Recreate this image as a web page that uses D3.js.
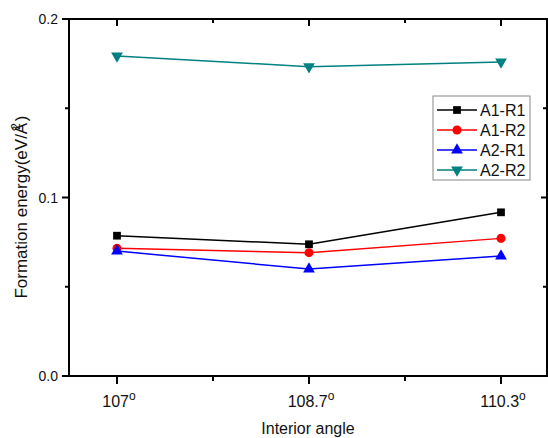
<!DOCTYPE html>
<meta charset="utf-8">
<body style="margin:0;background:#fff">
<style>
text { font-family: "Liberation Sans", Arial, sans-serif; fill: #111; }
.frame line { stroke: #000; stroke-width: 2px; }
.data .ln { fill: none; stroke-width: 1.5px; }
</style>
<script src="https://cdn.jsdelivr.net/npm/d3@7"></script>
<script>

var angles = ["107", "108.7", "110.3"];
var seriesNames = ["A1-R1", "A1-R2", "A2-R1", "A2-R2"];
var a1r1 = [0.0786, 0.0738, 0.0917];
var a1r2 = [0.0715, 0.0691, 0.0771];
var a2r1 = [0.0700, 0.0599, 0.0672];
var a2r2 = [0.1793, 0.1733, 0.1759];
var colors = ["#000000", "#ff0000", "#0000ff", "#008080"];
var symbols = [d3.symbolSquare, d3.symbolCircle, d3.symbolTriangle, d3.symbolTriangle];
var yTicks = [0.0, 0.1, 0.2];

var series = [a1r1, a1r2, a2r1, a2r2];

var W = 548, H = 438;
var pLeft = 69, pRight = 547, pTop = 19, pBottom = 376;

var svg = d3.select("body").append("svg")
    .attr("width", W)
    .attr("height", H);

var x = d3.scaleLinear().domain([-0.25, 2.2396]).range([pLeft, pRight]);
var y = d3.scaleLinear().domain([0, 0.2]).range([pBottom, pTop]);

var frame = svg.append("g").attr("class", "frame");

// major + minor ticks on x (0.5 step in index units)
var xMinor = d3.range(0, 2.01, 0.5);
xMinor.forEach(function(v) {
  var major = Math.abs(v - Math.round(v)) < 1e-6;
  var px = x(v);
  frame.append("line").attr("x1", px).attr("x2", px)
    .attr("y1", pBottom).attr("y2", pBottom + (major ? 8 : 5));
  frame.append("line").attr("x1", px).attr("x2", px)
    .attr("y1", pTop).attr("y2", pTop + (major ? 7 : 4));
});
var yMinor = d3.range(0, 0.2001, 0.05);
yMinor.forEach(function(v) {
  var major = Math.abs(v * 10 - Math.round(v * 10)) < 1e-6;
  var py = y(v);
  frame.append("line").attr("y1", py).attr("y2", py)
    .attr("x1", pLeft).attr("x2", pLeft - (major ? 7 : 4));
  frame.append("line").attr("y1", py).attr("y2", py)
    .attr("x1", pRight).attr("x2", pRight - (major ? 6 : 4));
});

frame.append("rect")
  .attr("x", pLeft).attr("y", pTop)
  .attr("width", pRight - pLeft).attr("height", pBottom - pTop)
  .attr("fill", "none").attr("stroke", "#000").attr("stroke-width", 2);

// tick labels
svg.selectAll(".ylab").data(yTicks).enter().append("text")
  .attr("x", 58).attr("y", function(d) { return y(d) + 5; })
  .attr("text-anchor", "end")
  .style("font-size", "14px")
  .text(function(d) { return d.toFixed(1); });

var xl = svg.selectAll(".xlab").data(angles).enter().append("text")
  .attr("x", function(d, i) { return x(i) + 2; })
  .attr("y", 407)
  .attr("text-anchor", "middle")
  .style("font-size", "16px");
xl.append("tspan").text(function(d) { return d; });
xl.append("tspan").attr("dy", -7).style("font-size", "12px").text("o");

svg.append("text")
  .attr("x", 308).attr("y", 434)
  .attr("text-anchor", "middle")
  .style("font-size", "16px")
  .text("Interior angle");

var yt = svg.append("text")
  .attr("transform", "translate(27,207) rotate(-90)")
  .attr("text-anchor", "middle")
  .style("font-size", "17px");
yt.append("tspan").text("Formation energy(eV/Å");
yt.append("tspan").attr("dy", -7).attr("dx", -7).style("font-size", "12px").text("2");
yt.append("tspan").attr("dy", 7).attr("dx", 2).text(")");

// data
var line = d3.line()
  .x(function(d, i) { return x(i); })
  .y(function(d) { return y(d); });

var g = svg.append("g").attr("class", "data");
series.forEach(function(s, k) {
  g.append("path").attr("class", "ln").datum(s).attr("d", line).attr("stroke", colors[k]);
  g.selectAll(".m" + k).data(s).enter().append("path")
    .attr("class", "m" + k)
    .attr("d", d3.symbol().type(symbols[k]).size(k == 1 ? 64 : 60))
    .style("fill", colors[k])
    .style("stroke", "none")
    .attr("transform", function(d, i) {
      return "translate(" + x(i) + "," + y(d) + ")" + (k == 3 ? " rotate(180)" : "");
    });
});

// legend
var lg = svg.append("g");
lg.append("rect")
  .attr("x", 433).attr("y", 96).attr("width", 97).attr("height", 84)
  .attr("fill", "#fff").attr("stroke", "#888").attr("stroke-width", 1);
seriesNames.forEach(function(n, k) {
  var ly = 110 + k * 20;
  lg.append("line").attr("x1", 437).attr("x2", 477)
    .attr("y1", ly).attr("y2", ly)
    .attr("stroke", colors[k]).attr("stroke-width", 1.5);
  lg.append("path")
    .attr("d", d3.symbol().type(symbols[k]).size(k == 1 ? 64 : 60))
    .attr("fill", colors[k])
    .attr("transform", "translate(457," + ly + ")" + (k == 3 ? " rotate(180)" : ""));
  lg.append("text").attr("x", 480).attr("y", ly + 6)
    .style("font-size", "16px").text(n);
});

</script>
